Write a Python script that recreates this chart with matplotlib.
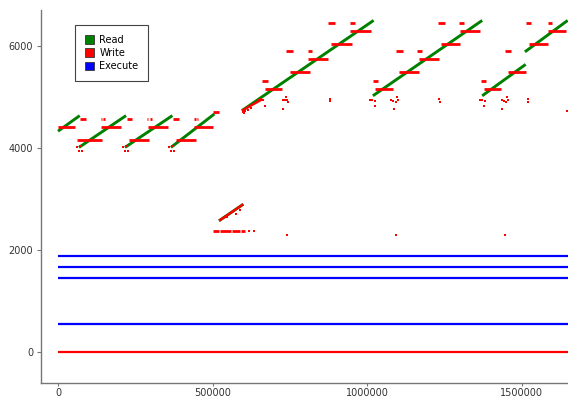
import matplotlib
matplotlib.use("Agg")
import matplotlib.pyplot as plt
from matplotlib.patches import Patch

# ---------------- data ----------------
trace_end = 1650000

# Execute: constant address bands
exec_y = [1890, 1676, 1452, 552]
# Write: constant band at 0
write_band_y = [0]

# Read: diagonal sweeps (x0, x1, y0, y1)
read_x0 = [0, 67900, 216600, 365400, 594900, 1018800, 1372400, 1510600, 521000]
read_x1 = [70300, 220100, 370000, 505900, 1021100, 1372400, 1512900, 1649000, 599600]
read_y0 = [4328, 4011, 4011, 4011, 4730, 5021, 5021, 5881, 2575]
read_y1 = [4633, 4633, 4633, 4665, 6496, 6496, 5635, 6496, 2899]

# Write: diagonal sweeps overlapping reads
wdiag_x0 = [521000, 594900]
wdiag_x1 = [599600, 661600]
wdiag_y0 = [2575, 4730]
wdiag_y1 = [2899, 4956]

# Write: short horizontal runs (x0, x1, y)
write_x0 = [0, 62000, 140500, 228300, 290400, 380600, 441500, 503000,
            72600, 138000, 147000, 222500, 287000, 299000, 372400, 441500, 450000,
            661600, 671000, 737700, 749400, 808000, 810300, 874700, 884100, 946200, 946200,
            1018800, 1024600, 1092500, 1104300, 1162800, 1168700, 1229600, 1237700, 1297500, 1302200,
            1369000, 1377000, 1447000, 1455000, 1513000, 1525000, 1584000, 1584000,
            500000, 524000, 563000, 593000]
write_x1 = [55000, 142900, 204900, 292800, 354800, 445000, 500000, 521000,
            90200, 143000, 152000, 240000, 292000, 304000, 390000, 446000, 454300,
            679200, 726000, 758800, 813800, 822000, 874700, 895800, 950900, 960200, 1012900,
            1036300, 1083200, 1114800, 1168700, 1176900, 1231900, 1250600, 1302200, 1313900, 1364200,
            1385000, 1434000, 1467000, 1515000, 1531000, 1584000, 1598000, 1644000,
            520000, 560000, 590000, 604000]
write_y = [4406, 4160, 4406, 4160, 4406, 4160, 4406, 4700,
           4561, 4561, 4561, 4561, 4561, 4561, 4561, 4561, 4561,
           5312, 5150, 5894, 5493, 5894, 5739, 6444, 6036, 6444, 6282,
           5312, 5150, 5894, 5493, 5894, 5739, 6444, 6036, 6444, 6282,
           5312, 5150, 5894, 5493, 6444, 6036, 6444, 6282,
           2381, 2381, 2381, 2381]

# Write: isolated points
wpt_x = [60900, 69000, 76700, 71400,
         209900, 218000, 225700, 220400,
         358900, 367000, 374700, 369400,
         545700, 577300, 590000, 618000, 633500,
         741000, 1093700, 1446000,
         597000, 605000, 615000, 602000, 625000,
         650000, 656000, 662000, 668600, 727000, 733000, 737000, 741000, 745000, 728000, 879000, 880500,
         1010000, 1017000, 1026000, 1024600, 1077000, 1085000, 1092000, 1099000, 1098000, 1085500, 1234000, 1235000,
         1364000, 1372000, 1380000, 1377000, 1435000, 1443000, 1450000, 1457000, 1453000, 1438000, 1520000, 1521000,
         1646000]
wpt_y = [4018, 3940, 3940, 4031,
         4018, 3940, 3940, 4031,
         4018, 3940, 3940, 4031,
         2646, 2711, 2789, 2381, 2381,
         2303, 2303, 2303,
         4700, 4720, 4745, 4690, 4790,
         4937, 4960, 4930, 4827, 4937, 4930, 4990, 4937, 4898, 4762, 4950, 4910,
         4937, 4930, 4910, 4827, 4937, 4920, 4900, 4937, 4988, 4762, 4950, 4900,
         4937, 4930, 4910, 4827, 4937, 4920, 4900, 4937, 4988, 4762, 4950, 4900,
         4730]

xticks = [0, 500000, 1000000, 1500000]
xticklabels = ["0", "500000", "1000000", "1500000"]
yticks = [0, 2000, 4000, 6000]
yticklabels = ["0", "2000", "4000", "6000"]
legend_labels = ["Read", "Write", "Execute"]
colors = ["#008000", "#ff0000", "#0000ff"]

# ---------------- plot ----------------
fig = plt.figure(figsize=(5.68, 4.0), dpi=100)
ax = fig.add_axes([41 / 568, 17 / 400, 527 / 568, 373 / 400])

for y in exec_y:
    ax.plot([0, trace_end], [y, y], color=colors[2], lw=1.6, solid_capstyle="butt", zorder=2)
for y in write_band_y:
    ax.plot([0, trace_end], [y, y], color=colors[1], lw=1.6, solid_capstyle="butt", zorder=2)

for x0, x1, y0, y1 in zip(read_x0, read_x1, read_y0, read_y1):
    ax.plot([x0, x1], [y0, y1], color=colors[0], lw=2.1, solid_capstyle="butt", zorder=3)

for x0, x1, y0, y1 in zip(wdiag_x0, wdiag_x1, wdiag_y0, wdiag_y1):
    ax.plot([x0, x1], [y0, y1], color=colors[1], lw=1.7, solid_capstyle="butt", zorder=4)

for x0, x1, y in zip(write_x0, write_x1, write_y):
    ax.plot([x0, x1], [y, y], color=colors[1], lw=2.0, solid_capstyle="butt", zorder=4)

ax.scatter(wpt_x, wpt_y, s=3.5, marker="s", color=colors[1], linewidths=0, zorder=4)

ax.set_xlim(-55000, 1650000)
ax.set_ylim(-600, 6700)
ax.set_xticks(xticks)
ax.set_xticklabels(xticklabels)
ax.set_yticks(yticks)
ax.set_yticklabels(yticklabels)

for s in ["top", "right"]:
    ax.spines[s].set_visible(False)
for s in ["left", "bottom"]:
    ax.spines[s].set_color("#777777")
    ax.spines[s].set_linewidth(1.0)
ax.tick_params(axis="both", colors="#777777", labelcolor="#333333", labelsize=7,
               length=3, width=0.8, pad=2.5)
ax.tick_params(axis="x", length=2.5, pad=1.0)

handles = [Patch(facecolor=c, edgecolor="#333333", linewidth=0.6) for c in colors]
leg = ax.legend(handles, legend_labels, loc="upper left", bbox_to_anchor=(0.0645, 0.96),
                fontsize=7, frameon=True, fancybox=False, framealpha=1,
                edgecolor="#444444", borderpad=1.0, labelspacing=0.35,
                handlelength=1.0, handleheight=1.0, handletextpad=0.5, borderaxespad=0)
leg.get_frame().set_linewidth(0.8)

fig.savefig("out.png", dpi=100)
